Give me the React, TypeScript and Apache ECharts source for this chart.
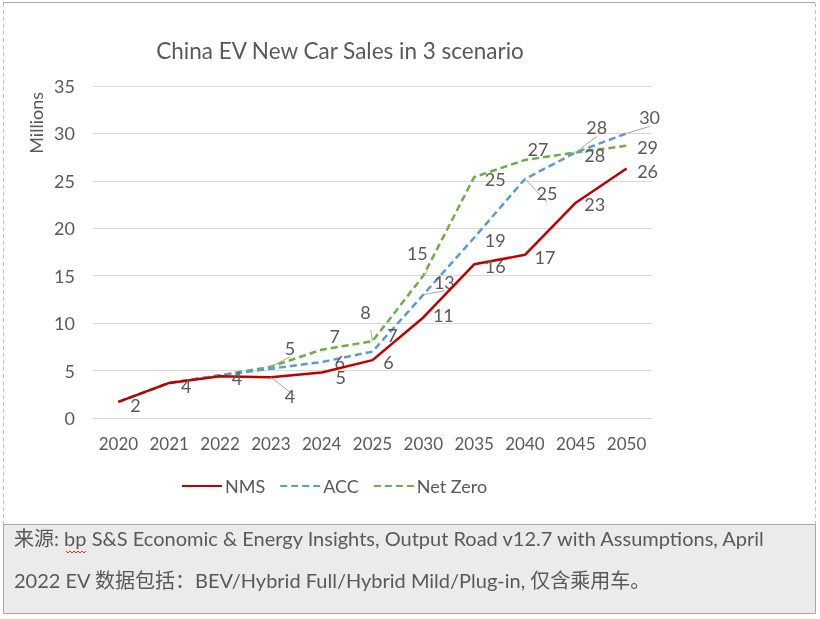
import React, { useEffect, useRef } from "react";
import * as echarts from "echarts";

const categories = ["2020", "2021", "2022", "2023", "2024", "2025", "2030", "2035", "2040", "2045", "2050"];
const nmsValues = [1.7, 3.7, 4.4, 4.3, 4.8, 6.1, 10.6, 16.2, 17.2, 22.7, 26.3];
const accValues = [1.7, 3.7, 4.5, 5.2, 5.9, 7.0, 13.0, 19.0, 25.2, 28.0, 30.0];
const nzValues = [1.7, 3.7, 4.5, 5.4, 7.2, 8.1, 15.0, 25.4, 27.2, 28.0, 28.7];
const yTicks = [0, 5, 10, 15, 20, 25, 30, 35];

// label placement (styling), per point: [dx, dy] or null = hidden
const nmsLabelOffsets = [[17, 3], [17, 3], [17, 2], [19, 19], [19, 5], [16, 2], [20, -2], [21, 2], [20, 2], [19, 1], [21, 2]];
const accLabelOffsets = [null, null, null, null, [18, 0], [20, -17], [21, -13], [21, 2], [22, 14], [21, -25], [23, -16]];
const nzLabelOffsets = [null, null, null, [19, -19], [13, -14], [-7, -29], [-6, -23], [21, 2], [13, -11], [19, 3], [21, 1]];
// points whose labels carry a leader line
const nmsLeaders = [3];
const accLeaders = [6, 8, 9, 10];
const nzLeaders = [3, 5, 6];

const TEXT = "#595959";
const FONT = "Lato, 'Noto Sans', sans-serif";

function buildData(values: number[], offsets: (number[] | null)[], leaders: number[]) {
  return values.map((v, i) => {
    const off = offsets[i];
    const item: any = {
      value: v,
      label: off ? { show: true, offset: off } : { show: false },
    };
    if (leaders.indexOf(i) >= 0) {
      item.labelLine = { show: true, lineStyle: { color: "#a6a6a6", width: 1 } };
    }
    return item;
  });
}

export default function App() {
  const ref = useRef<HTMLDivElement>(null);
  useEffect(() => {
    document.body.style.margin = "0";
    const chart = echarts.init(ref.current!, undefined, { renderer: "svg" });
    const labelBase = {
      show: true,
      position: "inside",
      color: TEXT,
      fontSize: 18,
      fontFamily: FONT,
      formatter: (p: any) => String(Math.round(p.value)),
    };
    const mkSeries = (name: string, values: number[], offsets: any[], leaders: number[], color: string, dashed: boolean, z: number) => ({
      name,
      type: "line",
      data: buildData(values, offsets, leaders),
      symbol: "circle",
      symbolSize: 0.1,
      showSymbol: true,
      itemStyle: { color },
      lineStyle: { color, width: 2.5, type: dashed ? [7, 4] : "solid" },
      label: labelBase,
      labelLine: { show: false, lineStyle: { color: "#a6a6a6", width: 1 } },
      z,
      emphasis: { disabled: true },
    });
    chart.setOption({
      animation: false,
      textStyle: { fontFamily: FONT },
      title: {
        text: "China EV New Car Sales in 3 scenario",
        left: 335,
        top: 34,
        textAlign: "center",
        textStyle: { color: TEXT, fontSize: 22.5, fontWeight: "normal", fontFamily: FONT },
      },
      legend: {
        data: [{ name: "NMS" }, { name: "ACC" }, { name: "Net Zero" }],
        left: 176,
        top: 472,
        itemWidth: 40,
        itemHeight: 18,
        itemGap: 14,
        itemStyle: { opacity: 0 },
        textStyle: { color: TEXT, fontSize: 18, fontFamily: FONT, padding: [0, 0, 0, -2] },
      },
      grid: { left: 93, right: 168, top: 86, bottom: 201, containLabel: false },
      xAxis: {
        type: "category",
        data: categories,
        boundaryGap: true,
        axisLine: { show: true, lineStyle: { color: "#d9d9d9" } },
        axisTick: { show: false },
        axisLabel: { color: TEXT, fontSize: 17, fontFamily: FONT, margin: 17, interval: 0 },
      },
      yAxis: {
        type: "value",
        min: yTicks[0],
        max: yTicks[yTicks.length - 1],
        interval: 5,
        name: "Millions",
        nameLocation: "end",
        nameRotate: 90,
        nameGap: 0,
        nameTextStyle: { color: TEXT, fontSize: 18, fontFamily: FONT, align: "right", verticalAlign: "bottom", padding: [0, 6, 48, 0] },
        axisLine: { show: false },
        axisTick: { show: false },
        axisLabel: { color: TEXT, fontSize: 18, fontFamily: FONT, margin: 18 },
        splitLine: { lineStyle: { color: "#d9d9d9", width: 1 } },
      },
      series: [
        mkSeries("NMS", nmsValues, nmsLabelOffsets, nmsLeaders, "#C00000", false, 3),
        mkSeries("ACC", accValues, accLabelOffsets, accLeaders, "#5B9BD5", true, 2),
        mkSeries("Net Zero", nzValues, nzLabelOffsets, nzLeaders, "#70AD47", true, 1),
      ],
      graphic: [
        { type: "line", shape: { x1: 3, y1: 2.5, x2: 815, y2: 2.5 }, style: { stroke: "#a6a6a6", lineWidth: 1 } },
        { type: "line", shape: { x1: 3.5, y1: 3, x2: 3.5, y2: 524 }, style: { stroke: "#bfbfbf", lineWidth: 1, lineDash: [4, 3] } },
        { type: "line", shape: { x1: 815.5, y1: 3, x2: 815.5, y2: 524 }, style: { stroke: "#bfbfbf", lineWidth: 1, lineDash: [4, 3] } },
        {
          type: "rect",
          shape: { x: 3.5, y: 524.5, width: 812, height: 89 },
          style: { fill: "#ebebeb", stroke: "#a6a6a6", lineWidth: 1 },
        },
        {
          type: "text",
          left: 14,
          top: 528,
          style: {
            text: "来源: bp S&S Economic & Energy Insights, Output Road v12.7 with Assumptions, April",
            fill: TEXT,
            font: "20px Lato, 'Noto Sans CJK SC', sans-serif",
          },
        },
        {
          type: "polyline",
          shape: { points: [[66, 551], [68, 553], [70, 551], [72, 553], [74, 551], [76, 553], [78, 551], [80, 553], [82, 551], [84, 553], [86, 551]] },
          style: { stroke: "#e03030", lineWidth: 1, fill: "none" },
        },
        {
          type: "text",
          left: 14,
          top: 570,
          style: {
            text: "2022 EV 数据包括：BEV/Hybrid Full/Hybrid Mild/Plug-in, 仅含乘用车。",
            fill: TEXT,
            font: "20px Lato, 'Noto Sans CJK SC', sans-serif",
          },
        },
      ],
    });
    return () => chart.dispose();
  }, []);
  return <div ref={ref} style={{ position: "fixed", left: 0, top: 0, width: 820, height: 619 }} />;
}
